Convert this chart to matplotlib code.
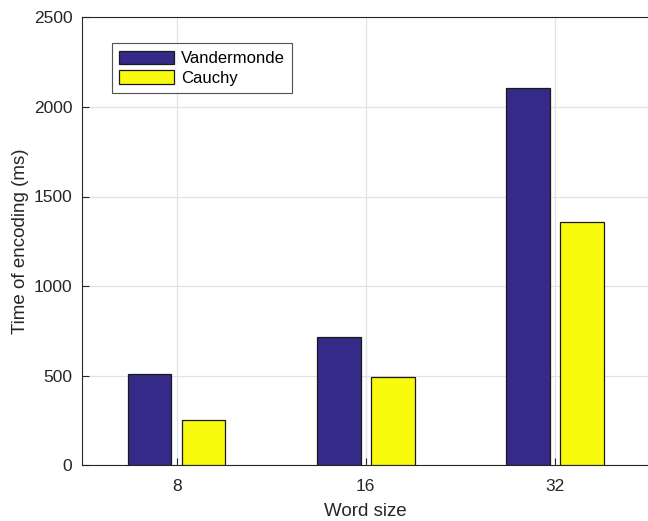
import numpy as np
import matplotlib
matplotlib.use('Agg')
import matplotlib.pyplot as plt

# data
word_sizes = ['8', '16', '32']
vandermonde = [510, 715, 2105]
cauchy = [255, 490, 1360]

plt.rcParams['font.family'] = ['Liberation Sans', 'DejaVu Sans']

fig = plt.figure(figsize=(6.48, 5.21), dpi=100)
# axes is wider than the figure: the reference is cropped on the right
ax = fig.add_axes([82 / 648, 55.7 / 521, 567.5 / 648, 448 / 521])

x = np.arange(1, len(word_sizes) + 1)
w = 0.231
off = 0.143
ax.bar(x - off, vandermonde, w, color='#352A87', edgecolor='#1a1a1a',
       linewidth=0.9, label='Vandermonde', zorder=3)
ax.bar(x + off, cauchy, w, color='#F9FB0E', edgecolor='#1a1a1a',
       linewidth=0.9, label='Cauchy', zorder=3)

ax.set_xlim(0.5, 3.5)
ax.set_ylim(0, 2500)
ax.set_xticks(x)
ax.set_xticklabels(word_sizes)
ax.set_yticks(np.arange(0, 2501, 500))

ax.grid(True, color='#e3e3e3', linewidth=0.9, zorder=0)
ax.set_axisbelow(True)
for s in ['left', 'bottom', 'top', 'right']:
    ax.spines[s].set_color('#262626')
    ax.spines[s].set_linewidth(0.8)
ax.tick_params(direction='in', length=5, width=0.8, color='#262626',
               labelsize=12.5, labelcolor='#262626', pad=7)
ax.tick_params(axis='x', pad=10)
ax.tick_params(top=False, right=False)

ax.set_xlabel('Word size', fontsize=13.5, color='#262626', labelpad=6)
ax.set_ylabel('Time of encoding (ms)', fontsize=13.5, color='#262626', labelpad=3)

leg = ax.legend(loc='upper left', bbox_to_anchor=(0.0523, 0.942), fontsize=12,
                frameon=True, fancybox=False, edgecolor='#262626',
                handlelength=3.3, handleheight=0.85, handletextpad=0.4,
                labelspacing=0.25, borderpad=0.45, borderaxespad=0)
leg.get_frame().set_linewidth(0.8)

fig.savefig('out.png', dpi=100)
